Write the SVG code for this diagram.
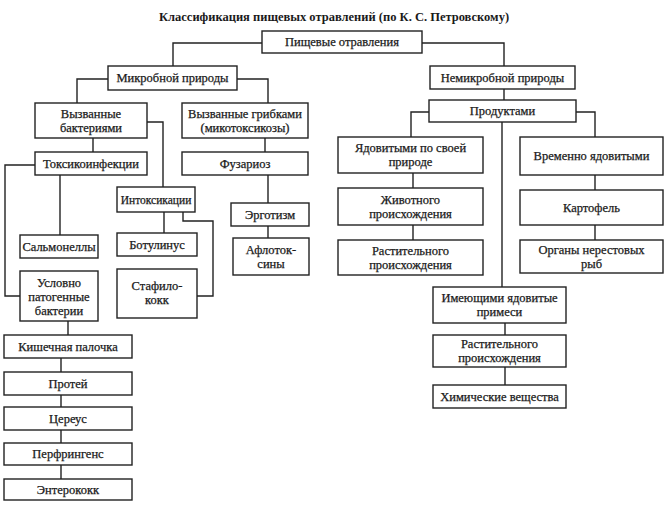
<svg xmlns="http://www.w3.org/2000/svg" width="667" height="508" viewBox="0 0 667 508">
<style>
.b{fill:#fff;stroke:#222;stroke-width:1.4}
.t{font-family:"Liberation Serif",serif;font-size:12.5px;fill:#1a1a1a;stroke:#1a1a1a;stroke-width:0.25;text-anchor:middle}
.c{fill:none;stroke:#222;stroke-width:1.4}
.h{font-family:"Liberation Serif",serif;font-size:12.5px;font-weight:bold;fill:#1a1a1a;text-anchor:middle}
</style>
<rect width="667" height="508" fill="#fff"/>
<text class="h" x="334" y="21">Классификация пищевых отравлений (по К. С. Петровскому)</text>
<g id="connectors">
<path class="c" d="M262,43 H173 V66"/>
<path class="c" d="M422,43 H504 V66"/>
<path class="c" d="M108,79 H77 V103"/>
<path class="c" d="M237,79 H268 V103"/>
<path class="c" d="M504,89 V100"/>
<path class="c" d="M429,112 H411 V137"/>
<path class="c" d="M576,112 H595 V137"/>
<path class="c" d="M502,122 V287"/>
<path class="c" d="M147,122 H163 V187"/>
<path class="c" d="M93,138 V152"/>
<path class="c" d="M265,138 V152"/>
<path class="c" d="M35,165 H5 V296 H20"/>
<path class="c" d="M60,175 V235"/>
<path class="c" d="M164,212 V233"/>
<path class="c" d="M183,212 V221 H213 V296 H197"/>
<path class="c" d="M268,175 V203"/>
<path class="c" d="M268,226 V238"/>
<path class="c" d="M68,321 V335"/>
<path class="c" d="M61,358 V372"/>
<path class="c" d="M61,395 V407"/>
<path class="c" d="M61,430 V443"/>
<path class="c" d="M61,465 V479"/>
<path class="c" d="M413,173 V188"/>
<path class="c" d="M413,225 V240"/>
<path class="c" d="M595,175 V190"/>
<path class="c" d="M595,225 V240"/>
<path class="c" d="M505,323 V335"/>
<path class="c" d="M505,367 V385"/>
</g>
<g id="n1"><rect class="b" x="262" y="31" width="160" height="22"/><text class="t" x="342" y="46">Пищевые отравления</text></g>
<g id="n2"><rect class="b" x="108" y="66" width="129" height="24"/><text class="t" x="172.5" y="82">Микробной природы</text></g>
<g id="n3"><rect class="b" x="430" y="66" width="145" height="23"/><text class="t" x="502.5" y="82">Немикробной природы</text></g>
<g id="n4"><rect class="b" x="429" y="100" width="147" height="22"/><text class="t" x="502.5" y="115">Продуктами</text></g>
<g id="n5"><rect class="b" x="35" y="103" width="112" height="35"/><text class="t" x="91" y="118">Вызванные</text><text class="t" x="91" y="132">бактериями</text></g>
<g id="n6"><rect class="b" x="182" y="103" width="126" height="35"/><text class="t" x="245" y="118">Вызванные грибками</text><text class="t" x="245" y="132">(микотоксикозы)</text></g>
<g id="n7"><rect class="b" x="35" y="152" width="112" height="23"/><text class="t" x="91" y="168">Токсикоинфекции</text></g>
<g id="n8"><rect class="b" x="182" y="152" width="126" height="23"/><text class="t" x="245" y="168">Фузариоз</text></g>
<g id="n9"><rect class="b" x="117" y="187" width="78" height="25"/><text class="t" x="156" y="204" style="font-size:11.5px">Интоксикации</text></g>
<g id="n10"><rect class="b" x="231" y="203" width="78" height="23"/><text class="t" x="270" y="219">Эрготизм</text></g>
<g id="n11"><rect class="b" x="20" y="235" width="78" height="23"/><text class="t" x="59" y="251">Сальмонеллы</text></g>
<g id="n12"><rect class="b" x="117" y="233" width="80" height="23"/><text class="t" x="157" y="249">Ботулинус</text></g>
<g id="n13"><rect class="b" x="233" y="238" width="76" height="37"/><text class="t" x="271" y="254">Афлоток-</text><text class="t" x="271" y="268">сины</text></g>
<g id="n14"><rect class="b" x="20" y="271" width="78" height="50"/><text class="t" x="59" y="287">Условно</text><text class="t" x="59" y="301">патогенные</text><text class="t" x="59" y="315">бактерии</text></g>
<g id="n15"><rect class="b" x="117" y="269" width="80" height="49"/><text class="t" x="157" y="290">Стафило-</text><text class="t" x="157" y="304">кокк</text></g>
<g id="n16"><rect class="b" x="4" y="335" width="128" height="23"/><text class="t" x="68" y="351">Кишечная палочка</text></g>
<g id="n17"><rect class="b" x="4" y="372" width="128" height="23"/><text class="t" x="68" y="388">Протей</text></g>
<g id="n18"><rect class="b" x="4" y="407" width="128" height="23"/><text class="t" x="68" y="423">Цереус</text></g>
<g id="n19"><rect class="b" x="4" y="443" width="128" height="22"/><text class="t" x="68" y="458">Перфрингенс</text></g>
<g id="n20"><rect class="b" x="4" y="479" width="128" height="21"/><text class="t" x="68" y="494">Энтерококк</text></g>
<g id="n21"><rect class="b" x="338" y="137" width="145" height="36"/><text class="t" x="410.5" y="152">Ядовитыми по своей</text><text class="t" x="410.5" y="166">природе</text></g>
<g id="n22"><rect class="b" x="520" y="137" width="143" height="38"/><text class="t" x="591.5" y="160">Временно ядовитыми</text></g>
<g id="n23"><rect class="b" x="338" y="188" width="145" height="37"/><text class="t" x="410.5" y="204">Животного</text><text class="t" x="410.5" y="218">происхождения</text></g>
<g id="n24"><rect class="b" x="520" y="190" width="143" height="35"/><text class="t" x="591.5" y="212">Картофель</text></g>
<g id="n25"><rect class="b" x="338" y="240" width="145" height="35"/><text class="t" x="410.5" y="255">Растительного</text><text class="t" x="410.5" y="269">происхождения</text></g>
<g id="n26"><rect class="b" x="520" y="240" width="143" height="33"/><text class="t" x="591.5" y="254">Органы нерестовых</text><text class="t" x="591.5" y="268">рыб</text></g>
<g id="n27"><rect class="b" x="433" y="287" width="133" height="36"/><text class="t" x="499.5" y="302">Имеющими ядовитые</text><text class="t" x="499.5" y="316">примеси</text></g>
<g id="n28"><rect class="b" x="433" y="335" width="133" height="32"/><text class="t" x="499.5" y="348">Растительного</text><text class="t" x="499.5" y="362">происхождения</text></g>
<g id="n29"><rect class="b" x="433" y="385" width="133" height="23"/><text class="t" x="499.5" y="401">Химические вещества</text></g>
</svg>
